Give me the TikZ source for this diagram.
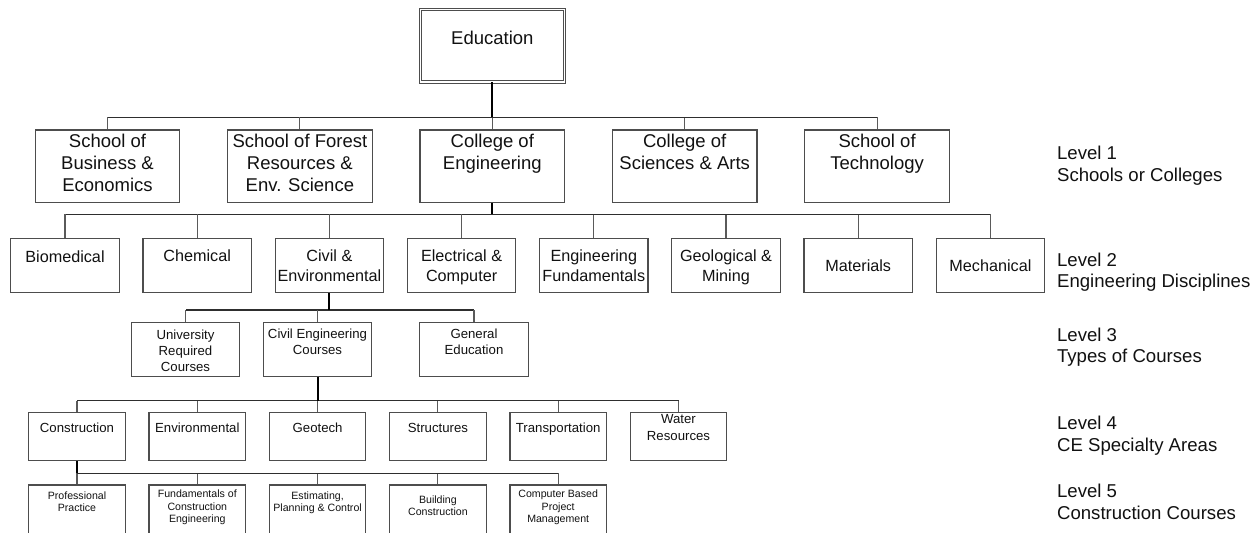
\documentclass[tikz,border=0pt]{standalone}
\usepackage{fontspec}
\setmainfont{Liberation Sans}
\definecolor{boxc}{HTML}{4D4D4D}
\definecolor{txtc}{HTML}{111111}
\definecolor{busc}{HTML}{2E2E2E}
\definecolor{stubc}{HTML}{5A5A5A}

% box text: width, height, first-baseline drop, lines
\newcommand\boxtxt[4]{\parbox[c][#2][t]{#1}{\centering\rule{0pt}{#3}#4\par}}
\newcommand\Lone[2]{\boxtxt{72.25pt}{36.15pt}{#1}{#2}}
\newcommand\Ltwo[2]{\boxtxt{54.25pt}{27.2pt}{#1}{#2}}
\newcommand\Lthree[2]{\boxtxt{54.25pt}{27.2pt}{#1}{#2}}
\newcommand\Lfour[2]{\boxtxt{48.25pt}{24pt}{#1}{#2}}
\newcommand\Lfive[2]{\boxtxt{48.25pt}{28pt}{#1}{#2}}
% bus segment plus drop to a child box
\newcommand\branch[2]{%
  \draw[busln] (#1) -- (#1 -| #2.north);
  \draw[stubln] (#1 -| #2.north) -- (#2.north);}

\begin{document}
\begin{tikzpicture}[x=0.5pt,y=-0.5pt,
  box/.style={draw=boxc, line width=0.6pt, inner sep=0pt, text=txtc},
  topbox/.style={box, double, line width=0.5pt, double distance=0.8pt,
    font=\fontsize{9.25pt}{10.85pt}\selectfont},
  lvone/.style={box, font=\fontsize{9.25pt}{10.85pt}\selectfont},
  lvtwo/.style={box, font=\fontsize{8.1pt}{9.75pt}\selectfont},
  lvthree/.style={box, font=\fontsize{6.6pt}{7.85pt}\selectfont},
  lvfour/.style={box, font=\fontsize{6.6pt}{8.35pt}\selectfont},
  lvfive/.style={box, font=\fontsize{5.3pt}{6.15pt}\selectfont},
  lvtag/.style={anchor=base west, inner sep=0pt, text=txtc,
    font=\fontsize{9.3pt}{10.85pt}\selectfont},
  trunk/.style={draw=black, line width=1pt},
  busln/.style={draw=busc, line width=0.7pt},
  stubln/.style={draw=stubc, line width=0.55pt}]

\useasboundingbox (0,0) rectangle (1260,532);
\clip (0,0) rectangle (1260,532);

% ---- root ----
\node[topbox] (edu) at (492.3,45.5) {\boxtxt{72pt}{36.2pt}{17.55pt}{Education}};

% ---- level 1: schools and colleges ----
\node[lvone] (sbe) at (107.5,166.2) {\Lone{8.9pt}{School of\\Business \&\\Economics}};
\node[lvone] (sfr) at (299.9,166.2) {\Lone{8.9pt}{School of Forest\\Resources \&\\Env. Science}};
\node[lvone] (coe) at (492.3,166.2) {\Lone{8.9pt}{College of\\Engineering}};
\node[lvone] (csa) at (684.7,166.2) {\Lone{8.9pt}{College of\\Sciences \& Arts}};
\node[lvone] (sot) at (877.1,166.2) {\Lone{8.9pt}{School of\\Technology}};

% ---- level 2: engineering disciplines ----
\node[lvtwo] (bio) at (65,265.5)    {\Ltwo{12.2pt}{Biomedical}};
\node[lvtwo] (che) at (197.2,265.5) {\Ltwo{11.65pt}{Chemical}};
\node[lvtwo] (civ) at (329.4,265.5) {\Ltwo{11.65pt}{Civil \&\\Environmental}};
\node[lvtwo] (ele) at (461.6,265.5) {\Ltwo{11.65pt}{Electrical \&\\Computer}};
\node[lvtwo] (enf) at (593.8,265.5) {\Ltwo{11.65pt}{Engineering\\Fundamentals}};
\node[lvtwo] (geo) at (726,265.5)   {\Ltwo{11.65pt}{Geological \&\\Mining}};
\node[lvtwo] (mat) at (858.2,265.5) {\Ltwo{16.4pt}{Materials}};
\node[lvtwo] (mec) at (990.4,265.5) {\Ltwo{16.4pt}{Mechanical}};

% ---- level 3: types of courses ----
\node[lvthree] (urc) at (185.5,349.5) {\Lthree{8.7pt}{University\\Required\\Courses}};
\node[lvthree] (cec) at (317.5,349.5) {\Lthree{8pt}{Civil Engineering\\Courses}};
\node[lvthree] (gen) at (474,349.5)   {\Lthree{8pt}{General\\Education}};

% ---- level 4: CE specialty areas ----
\node[lvfour] (con) at (77,436.7)    {\Lfour{10pt}{Construction}};
\node[lvfour] (env) at (197.3,436.7) {\Lfour{10pt}{Environmental}};
\node[lvfour] (gtc) at (317.6,436.7) {\Lfour{10pt}{Geotech}};
\node[lvfour] (str) at (437.9,436.7) {\Lfour{10pt}{Structures}};
\node[lvfour] (trn) at (558.2,436.7) {\Lfour{10pt}{Transportation}};
\node[lvfour] (wat) at (678.5,436.7) {\Lfour{5.5pt}{Water\\Resources}};

% ---- level 5: construction courses ----
\node[lvfive] (pro) at (77,513)    {\Lfive{7.25pt}{Professional\\Practice}};
\node[lvfive] (fce) at (197.3,513) {\Lfive{6.4pt}{Fundamentals of\\Construction\\Engineering}};
\node[lvfive] (epc) at (317.6,513) {\Lfive{7.25pt}{Estimating,\\Planning \& Control}};
\node[lvfive] (bld) at (437.9,513) {\Lfive{9.25pt}{Building\\Construction}};
\node[lvfive] (cbp) at (558.2,513) {\Lfive{6.4pt}{Computer Based\\Project\\Management}};

% ---- bus junctions ----
\coordinate (busA) at (492.3,117.3);
\coordinate (busB) at (492.3,214.3);
\coordinate (busC) at (329.4,310);
\coordinate (busD) at (317.5,400.7);
\coordinate (busE) at (77,473.3);

% ---- connectors ----
\foreach \c in {sbe,sfr,coe,csa,sot} {\branch{busA}{\c}}
\foreach \c in {bio,che,civ,ele,enf,geo,mat,mec} {\branch{busB}{\c}}
\foreach \c in {urc,cec,gen} {\branch{busC}{\c}}
\foreach \c in {con,env,gtc,str,trn,wat} {\branch{busD}{\c}}
\foreach \c in {pro,fce,epc,bld,cbp} {\branch{busE}{\c}}

\draw[trunk] (edu.south) -- (busA);
\draw[trunk] (coe.south) -- (busB);
\draw[trunk] (civ.south) -- (busC);
\draw[trunk] (cec.south) -- (busD);
\draw[trunk] (con.south) -- (busE);

% ---- level captions ----
\node[lvtag] (tg1) at (1056.7,159.4) {\parbox[t]{110pt}{Level 1\\Schools or Colleges}};
\node[lvtag] (tg2) at (1056.7,266.1) {\parbox[t]{110pt}{Level 2\\Engineering Disciplines}};
\node[lvtag] (tg3) at (1056.7,341.1) {\parbox[t]{110pt}{Level 3\\Types of Courses}};
\node[lvtag] (tg4) at (1056.7,429.4) {\parbox[t]{110pt}{Level 4\\CE Specialty Areas}};
\node[lvtag] (tg5) at (1056.7,497.8) {\parbox[t]{110pt}{Level 5\\Construction Courses}};
\end{tikzpicture}
\end{document}
